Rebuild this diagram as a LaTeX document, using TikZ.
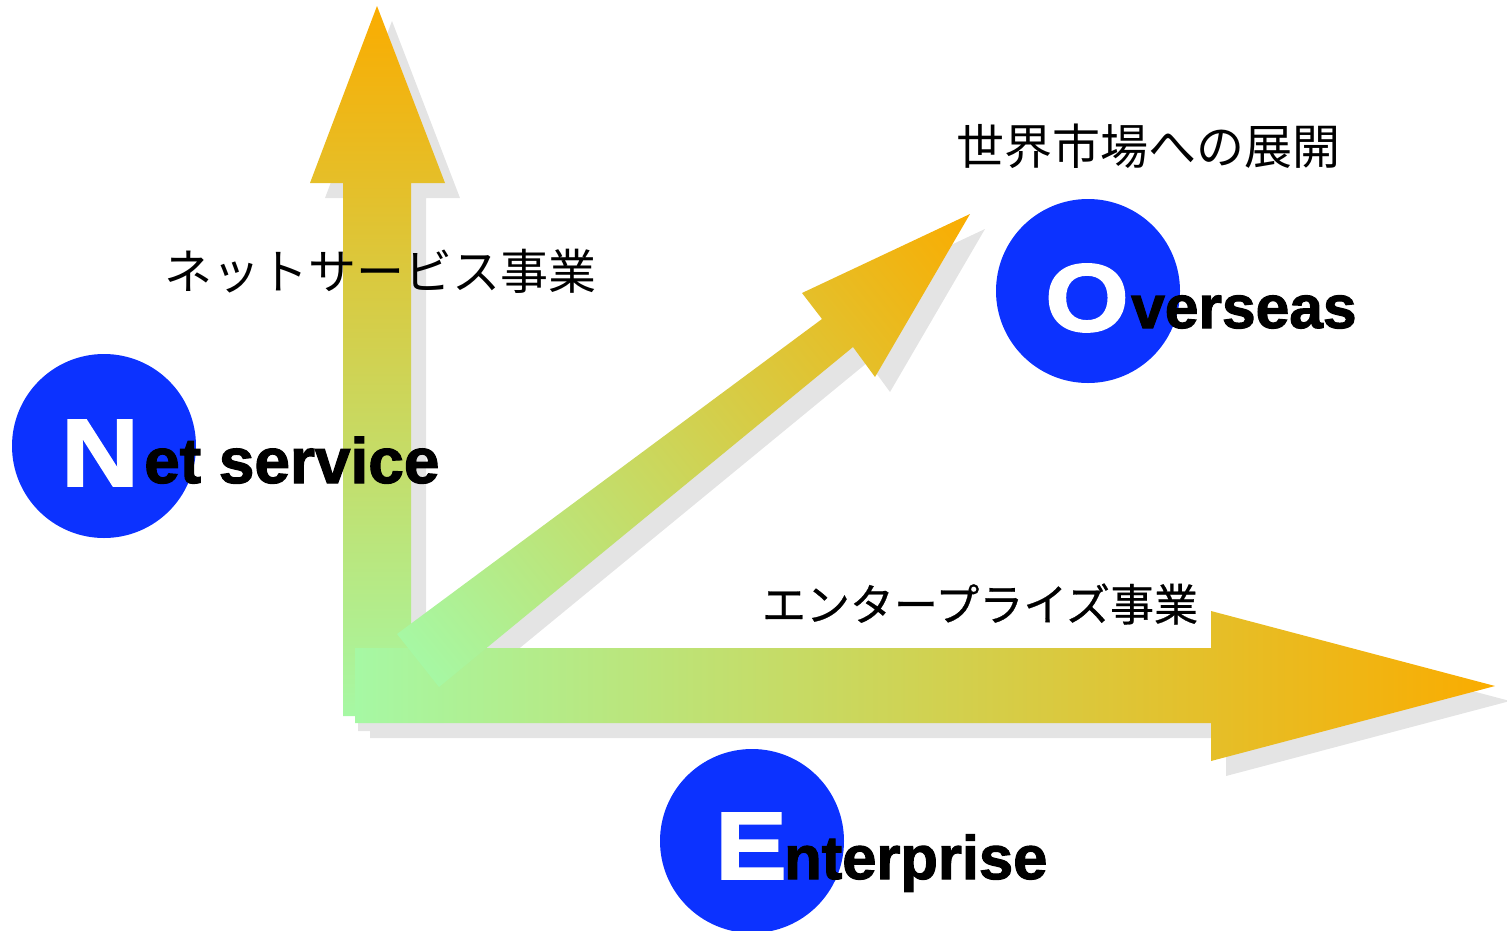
\documentclass[tikz,border=0pt]{standalone}
\usepackage{fontspec}
\setmainfont{Liberation Sans}
\newfontfamily\bigfont{Liberation Sans Bold}[FakeStretch=1.12, FakeBold=2]
\newfontfamily\smallfont{Liberation Sans Bold}[FakeBold=1.8]
\newfontfamily\jp{Noto Sans CJK JP}
\newfontfamily\jpb{Noto Sans CJK JP}[FakeBold=0.6]
\definecolor{ngreen}{RGB}{166,248,164}
\definecolor{norange}{RGB}{250,172,0}
\definecolor{shadowgray}{RGB}{228,228,228}
\definecolor{nblue}{RGB}{12,50,255}
\pgfdeclarehorizontalshading{diagshade}{240bp}{color(0bp)=(ngreen); color(710bp)=(norange)}
\begin{document}
\begin{tikzpicture}[x=1pt,y=-1pt,
  shadowfill/.style={fill=shadowgray},
  circ/.style={circle, fill=nblue, minimum size=184pt, inner sep=0pt},
  bigletter/.style={text=white, font=\bigfont\fontsize{96}{96}\selectfont, inner sep=0pt, anchor=base west},
  smallword/.style={text=black, font=\smallfont\fontsize{62}{62}\selectfont, inner sep=0pt, anchor=base west},
  jlabel/.style={font=\jp\fontsize{48}{48}\selectfont, inner sep=0pt, text=black},
  vpath/.style={insert path={(343,716) -- (343,183) -- (310,183) -- (377,6) -- (445,183) -- (411,183) -- (411,716) -- cycle}},
  hpath/.style={insert path={(355,648) -- (1211,648) -- (1211,611) -- (1495,686) -- (1211,761) -- (1211,723) -- (355,723) -- cycle}},
  dpath/.style={insert path={(397,634) -- (822,319) -- (802,293) -- (970,214) -- (875,377) -- (853,347) -- (439,687) -- cycle}}]
\useasboundingbox (0,0) rectangle (1507,930);
% shadows
\begin{scope}[shift={(15,15)}]
  \fill[shadowfill, vpath];
  \fill[shadowfill, hpath];
  \fill[shadowfill, dpath];
\end{scope}
% arrows
\shade[top color=norange, bottom color=ngreen, vpath];
\shade[left color=ngreen, right color=norange, hpath];
\begin{scope}
  \clip[dpath];
  \node[inner sep=0pt, rotate=39] (dshade) at (694,437) {\pgfuseshading{diagshade}};
\end{scope}
% circles
\node[circ] (ncirc) at (104,446) {};
\node[circ] (ocirc) at (1088,291) {};
\node[circ] (ecirc) at (752,841) {};
% latin labels
\node[bigletter] (nN) at (61,486) {N};
\node[smallword, font=\smallfont\fontsize{64}{64}\selectfont] (nrest) at (144,483) {et service};
\node[bigletter] (oO) at (1045,331) {O};
\node[smallword, font=\smallfont\fontsize{60.5}{60.5}\selectfont] (orest) at (1131,328) {verseas};
\node[bigletter] (eE) at (715,879) {E};
\node[smallword, font=\smallfont\fontsize{61.5}{61.5}\selectfont] (erest) at (784,879) {nterprise};
% japanese labels
\node[jlabel] (jnet) at (380,271) {ネットサービス事業};
\node[jlabel] (jworld) at (1148,146) {世界市場への展開};
\node[jlabel, font=\jpb\fontsize{44}{44}\selectfont] (jent) at (980,604) {エンタープライズ事業};
\end{tikzpicture}
\end{document}
